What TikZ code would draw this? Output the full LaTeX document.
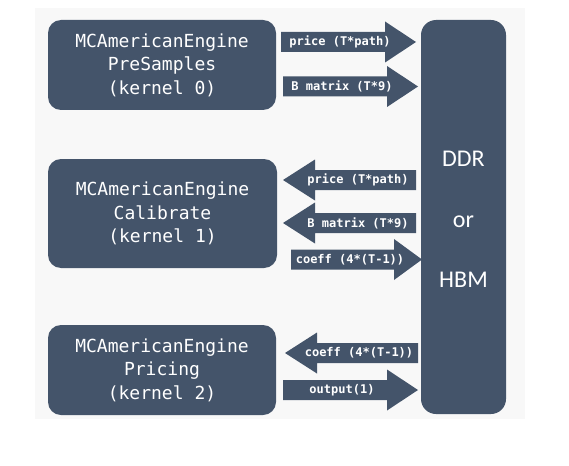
\documentclass[tikz,border=0pt]{standalone}
\usepackage{fontspec}
\newfontfamily\monofont{DejaVu Sans Mono}
\newfontfamily\labelfont{Carlito}
\definecolor{boxfill}{HTML}{44546A}
\definecolor{bgfill}{HTML}{F8F8F8}
\tikzset{
  kernelbox/.style={rectangle, rounded corners=13pt, fill=boxfill, text=white,
    align=center, inner sep=0pt, minimum width=228pt,
    font=\monofont\fontsize{18}{23.5}\selectfont},
  membox/.style={rectangle, rounded corners=15pt, fill=boxfill, inner sep=0pt,
    minimum width=85pt, minimum height=394pt},
  memtext/.style={text=white, anchor=base, inner sep=0pt,
    font=\labelfont\fontsize{24}{28}\selectfont},
  arrowlabel/.style={text=white, inner sep=0pt,
    font=\monofont\bfseries\fontsize{12}{14}\selectfont},
}
% block arrow: start x, head base x, tip x, centre y
\newcommand\blockarrow[4]{%
  \fill[boxfill] (#1,#4-10) -- (#2,#4-10) -- (#2,#4-20.5) -- (#3,#4)
    -- (#2,#4+20.5) -- (#2,#4+10) -- (#1,#4+10) -- cycle;}
\begin{document}
\begin{tikzpicture}[x=1pt,y=-1pt]
\useasboundingbox (0,0) rectangle (569,465);
\fill[bgfill] (35,8) rectangle (525,419);

\node[kernelbox, minimum height=90pt] (k0) at (162,65)
  {MCAmericanEngine\\PreSamples\\(kernel 0)};
\node[kernelbox, minimum height=109pt, minimum width=229pt] (k1) at (162.5,213.5)
  {MCAmericanEngine\\Calibrate\\(kernel 1)};
\node[kernelbox, minimum height=90pt] (k2) at (162,370)
  {MCAmericanEngine\\Pricing\\(kernel 2)};

\node[membox] (mem) at (463.5,217) {};
\node[memtext] (ddr) at (463.5,166) {DDR};
\node[memtext] (or) at (463.5,227) {or};
\node[memtext] (hbm) at (463.5,287) {HBM};

\blockarrow{281}{385}{416}{42}
\node[arrowlabel] (l1) at (340,42) {price (T*path)};
\blockarrow{283}{387}{418}{86.5}
\node[arrowlabel] (l2) at (342,86.5) {B matrix (T*9)};
\blockarrow{416}{315}{283}{180}
\node[arrowlabel] (l3) at (358,180) {price (T*path)};
\blockarrow{416}{315}{283}{223}
\node[arrowlabel] (l4) at (358,223) {B matrix (T*9)};
\blockarrow{291}{394}{422}{259.5}
\node[arrowlabel] (l5) at (350,259.5) {coeff (4*(T-1))};
\blockarrow{418}{317}{285}{353}
\node[arrowlabel] (l6) at (359,353) {coeff (4*(T-1))};
\blockarrow{283}{387}{418}{390}
\node[arrowlabel] (l7) at (342,390) {output(1)};
\end{tikzpicture}
\end{document}
